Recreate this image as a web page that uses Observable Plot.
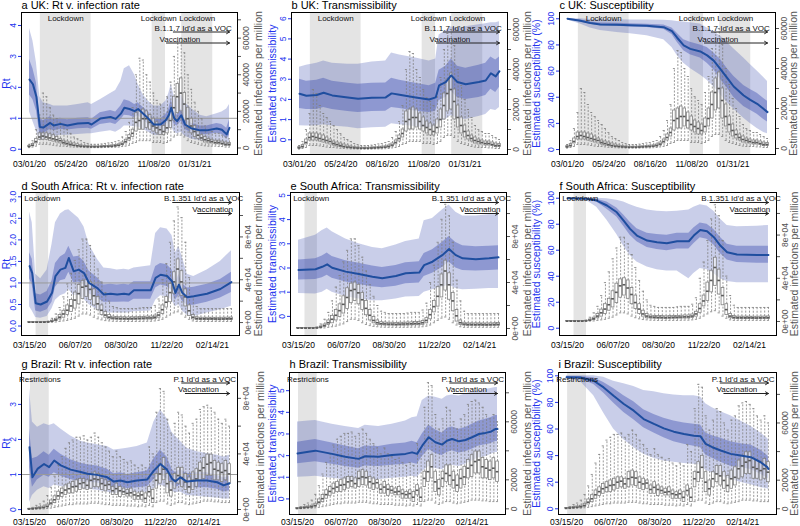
<!DOCTYPE html>
<html><head><meta charset="utf-8">
<script src="https://cdn.jsdelivr.net/npm/d3@7"></script>
<script src="https://cdn.jsdelivr.net/npm/@observablehq/plot@0.6"></script>
<style>
html,body{margin:0;padding:0;background:#fff;}
#chart{position:relative;width:800px;height:526px;overflow:hidden;background:#fff;}
#chart svg{position:absolute;left:0;top:0;}
</style></head><body><div id="chart"></div>
<script>
// ---------------- DATA ----------------
const ukStart = "2020-03-01", saStart = "2020-03-15", brStart = "2020-03-15";
const ukTickDates = ["2020-03-01","2020-05-24","2020-08-16","2020-11-08","2021-01-31"];
const saTickDates = ["2020-03-15","2020-06-07","2020-08-30","2020-11-22","2021-02-14"];
const brTickDates = ["2020-03-15","2020-06-07","2020-08-30","2020-11-22","2021-02-14"];
const ukLockdowns = [["2020-03-23","2020-07-04"],["2020-11-05","2020-12-02"],["2021-01-04","2021-03-08"]];
const saLockdowns = [["2020-03-27","2020-04-19"]];
const brRestrictions = [["2020-03-17","2020-04-22"]];
const ukEventLabels = ["B.1.1.7 Id'd as a VOC","Vaccination"];
const ukEventText = ["2020-11-10","2020-11-20"];
const ukEventArrow = ["2020-12-18","2020-12-04"];
const saEventLabels = ["B.1.351 Id'd as a VOC","Vaccination"];
const saEventText = ["2020-11-17","2021-01-08"];
const saEventArrow = ["2020-12-03","2021-01-18"];
const brEventLabels = ["P.1 Id'd as a VOC","Vaccination"];
const brEventText = ["2020-12-17","2020-12-26"];
const brEventArrow = ["2021-01-02","2021-01-09"];

// infection tick values (thousands per million) and their labels
const ukInfTicks = [0,10,20,30,40,50,60,70];
const ukInfLabels = ["0","","20000","","40000","","60000",""];
const saInfTicks = [0,20,40,60,80,100];
const saInfLabels = ["0e+00","","4e+04","","8e+04",""];
const brSciTicks = [0,20,40,60,80];
const brSciLabels = ["0e+00","","4e+04","","8e+04"];
const brInfTicks = [0,20,40,60,80];
const brInfLabels = ["0","20000","","60000",""];

// weekly infections per million (thousands): [lowWhisker, q1, median, q3, highWhisker]
const ukInf = [
[0.2,0.5,0.8,1.2,2],[0.5,1,1.5,2.2,4],[1,2.5,3.5,5,10],[2,4.5,6,8,18],[2,4.5,6.5,8,30],
[2,4.5,6,8,28],[1.8,4,5.5,7.5,22],[1.5,3.5,5,7,18],[1.2,3,4.5,6,16],[1,2.5,4,5,14],
[1,2,3,4,12],[0.8,1.5,2.5,3.5,10],[0.6,1.2,2,3,8],[0.5,1,1.5,2.5,6],[0.4,0.8,1.2,2,5],
[0.3,0.6,1,1.5,4],[0.3,0.5,0.8,1.2,3],[0.2,0.5,0.7,1,2.5],[0.2,0.4,0.6,0.9,2],[0.2,0.4,0.6,0.9,2],
[0.2,0.4,0.6,0.9,2],[0.2,0.5,0.7,1,2.2],[0.3,0.5,0.8,1.1,2.5],[0.3,0.6,0.9,1.2,2.8],[0.3,0.6,1,1.4,3],
[0.4,0.8,1.2,1.6,3.5],[0.5,1,1.5,2,4],[0.8,1.5,2.2,3,6],[1,2.5,3.5,4.5,9],[1.5,4,5.5,7,14],
[2.5,6,8,10,22],[3,9,14,19,40],[4,10,15,20,49],[4,10,16,21,48],[4,11,16,20,40],
[4,10,14,18,36],[3,9,12,16,30],[3,8,11,14,26],[3,7,10,13,24],[2.5,7,9,12,22],
[3,8,11,15,28],[4,11,15,20,36],[6,15,22,28,50],[7,19,28,35,58],[7,20,30,38,60],
[6,15,24,30,52],[4,11,16,22,40],[3,8,12,16,32],[2.5,6,9,12,25],[2,5,7,9,20],
[1.5,4,5.5,7,16],[1.2,3,4.5,6,12],[1,2.5,4,5,10],[1,2.5,3.5,4.5,9],[1,2,3,4,8],
[0.8,2,3,4,8],[0.8,1.8,2.5,3.5,7],[0.5,1.2,2,3,6],[0.5,1.2,2,2.8,5]
];
const saInf = [
[0.1,0.2,0.3,0.4,0.6],[0.1,0.2,0.3,0.4,0.6],[0.1,0.2,0.3,0.4,0.6],[0.1,0.2,0.3,0.4,0.6],[0.1,0.2,0.3,0.5,0.8],
[0.2,0.4,0.5,0.7,1.2],[0.3,0.8,1.2,1.8,4],[0.5,1.5,2.5,3.5,8],[1,3,5,7,14],[1.5,4.5,8,11,24],
[2,7,11.5,16,36],[3,10,15.5,21,46],[4,13,21,28,58],[6,17,27,35,68],[8,22,33,39,78],
[8,24,34,40,78],[7,21,31,38,72],[5,16,25,31,62],[3.5,11.5,17.5,24,50],[2.5,7,11.5,16,38],
[1.8,4.5,7,10,28],[1.5,3,5,7,20],[1.2,2.8,4.2,5.5,15],[1.1,2.6,4,5.2,14],[1,2.5,3.8,5,13],
[1,2.5,3.8,5,13],[1,2.4,3.6,4.8,13],[1,2.5,3.8,5,13],[1,2.5,3.9,5,13],[1,2.6,4,5.2,13.5],
[1.1,2.7,4.1,5.3,14],[1.2,2.8,4.3,5.6,14],[1.2,2.8,4.3,5.6,14],[1.5,3.2,5,6.5,16],[2,4.5,7,9,22],
[3,8,12,16,40],[5,14,19,24,55],[7,19,28,36,75],[9,27,38,47,95],[10,33,50,59,108],
[8,25,38,48,98],[5,15,24,31,75],[3,6,11,16,42],[1.5,3,5,7,24],[1,2.5,3.8,5,15],
[1,2.3,3.5,4.5,13],[1,2.3,3.5,4.5,13],[1,2.3,3.4,4.5,13],[1,2.3,3.5,4.5,13],[1,2.2,3.4,4.4,13],
[1,2.2,3.3,4.4,13],[1,2.3,3.4,4.5,13],[1,2.3,3.5,4.6,13],[1,2.4,3.6,4.7,13]
];
const brInf = [
[0.1,0.2,0.3,0.5,0.8],[0.1,0.3,0.5,0.8,1.5],[0.2,0.5,0.8,1.2,3],[0.3,0.7,1.1,1.6,4],[0.4,0.9,1.4,2.1,6],
[0.7,1.5,2.3,3.5,10],[1,3,4.6,6.5,16],[1.5,4.6,7,9.5,24],[2,7,9.8,12.8,32],[2.5,9,12,15,38],
[3,10.5,14,17.4,44],[3.5,11.5,15,18.6,48],[3.5,11.6,16.3,19.8,50],[4,12.8,16.7,21,52],[4,14,18.6,22,52],
[4,15,19.3,22,53],[4,14,17.4,21,50],[4.5,15,21,25.6,52],[4.5,16.3,22,26.7,55],[4.5,16,21.5,25.6,52],
[4,14,18.6,22,48],[3.5,13,17.4,21,45],[3.5,14,18,19.8,42],[3,10.5,13.5,16.3,38],[3,10.5,15,18.6,42],
[3,9,13.5,16.3,38],[3,10.5,12.8,15,36],[2.5,9.3,11.6,14,34],[2.5,9.3,12,15,35],[2.5,7,10.5,12.8,32],
[2,7,9.8,11.6,30],[2.5,7,10.5,12.8,32],[2,4.7,8,11.6,30],[3,9.3,12.8,16.3,45],[2,4.7,8,14,40],
[5,15,21,25.6,70],[6,18.6,25.6,32.6,87],[6,21,29,37,85],[4,11.6,18.6,25.6,65],[3,9.3,14,19.8,55],
[4,15,21,25.6,62],[5,18.6,24.4,30,70],[5,16.3,23,30,68],[4,14,19.8,25.6,60],[3.5,11.6,16.3,23,55],
[4,14,21,26.7,62],[4.5,16.3,22,29,65],[5,21,28,33.7,72],[6,22,30,37,74],[6,24.4,32.6,39.5,75],
[6,24.4,33.7,39.5,73],[5.5,21,29,35,70],[5.5,21,28,33.7,65],[5,19.8,26.7,32.6,62],[5,21,28,34.9,65],
[5,18.6,25.6,32.6,60]
];

// estimates: [week index, lower95, lower50, median, upper50, upper95]
const ukRt = [
[0,1.2,1.75,2.25,2.9,3.9],[1,0.9,1.6,2.1,2.6,3.5],[2,0.6,1.25,1.7,2.15,2.8],[3,0.3,0.5,0.72,1.0,1.7],
[4,0.3,0.5,0.7,0.92,1.5],[6,0.42,0.65,0.85,1.05,1.45],[7,0.4,0.6,0.77,0.97,1.4],[9,0.45,0.65,0.82,1.0,1.4],
[11,0.45,0.62,0.77,0.95,1.4],[14,0.48,0.66,0.83,1.0,1.45],[17,0.5,0.68,0.85,1.02,1.5],[18,0.5,0.65,0.8,0.97,1.45],
[20.5,0.55,0.8,0.99,1.18,1.6],[23.5,0.6,0.85,1.04,1.25,1.8],[25,0.55,0.8,0.98,1.2,1.9],[26.5,0.65,0.95,1.15,1.4,2.2],
[27.5,0.75,1.1,1.34,1.6,2.6],[29,0.75,1.08,1.3,1.55,2.7],[30.5,0.72,1.02,1.23,1.45,2.4],[31.5,0.72,1.08,1.3,1.5,2.1],
[33,0.65,0.95,1.15,1.35,1.75],[34.5,0.55,0.8,0.99,1.2,1.55],[36,0.45,0.65,0.8,0.98,1.4],[38,0.45,0.65,0.8,0.98,1.4],
[39.5,0.55,0.78,0.94,1.12,1.55],[40.4,0.6,0.9,1.1,1.3,1.8],[41.1,0.75,1.1,1.34,1.6,2.1],[42,0.55,0.8,0.99,1.2,1.7],
[42.8,0.5,0.75,0.91,1.1,1.6],[44,0.55,0.9,1.1,1.3,1.75],[45.1,0.42,0.65,0.8,0.97,1.5],[47.1,0.32,0.52,0.67,0.83,1.3],
[49.5,0.28,0.48,0.61,0.75,1.1],[51.4,0.25,0.48,0.61,0.75,1.05],[54.3,0.25,0.52,0.67,0.83,1.15],[55.8,0.2,0.48,0.63,0.8,1.2],
[57.2,0.1,0.33,0.48,0.68,1.3],[58,0.15,0.45,0.69,0.95,1.45]
];
const ukTr = [
[0,0.7,1.55,2.28,3.0,3.6],[2,0.68,1.5,2.18,2.9,3.7],[5,0.7,1.5,2.22,2.95,3.8],[7,0.75,1.6,2.33,3.05,3.9],
[9.5,0.68,1.5,2.2,2.9,3.8],[14,0.62,1.4,2.1,2.8,3.75],[17,0.55,1.35,2.03,2.75,3.75],[21,0.6,1.4,2.08,2.8,3.85],
[25,0.62,1.42,2.1,2.82,3.9],[26.7,0.8,1.6,2.3,3.05,4.3],[29,0.75,1.55,2.23,2.95,4.2],[33.7,0.65,1.42,2.1,2.8,4.05],
[37.6,0.6,1.35,2.0,2.68,3.9],[39.5,0.65,1.42,2.1,2.8,4.0],[40.5,0.9,1.95,2.7,3.45,5.2],[42.4,1.0,2.1,2.86,3.65,5.4],
[44,1.2,2.4,3.19,4.0,5.6],[45.8,1.05,2.1,2.86,3.65,5.5],[48.2,1.0,2.0,2.75,3.55,5.6],[52,1.15,2.1,2.86,3.7,5.7],
[54,1.25,2.2,2.94,3.8,5.75],[55.5,1.5,2.5,3.3,4.1,5.8],[56.9,1.45,2.35,3.14,3.95,5.8],[58,1.6,2.6,3.4,4.1,5.85]
];
const ukSu = [
[0,99,99.6,100,100,100],[3.7,96,97.8,98.5,99.2,100],[6.6,93,95.8,96.7,97.6,99.5],[9.5,91,94.7,95.7,96.7,99.3],
[14.3,89.5,94.2,95.4,96.5,99.2],[18.2,88.5,93.8,95,96.2,99],[23,87,93.3,94.6,95.9,99],[27.9,84,92,93.6,95.2,98.8],
[30.3,78,88,90.6,93,98.5],[31.8,72,82,85.5,89,98],[33.7,66,75.5,79.6,84,97.5],[35.6,62,72.5,77,82,97],
[38.5,57,70,75,80,96],[40.5,53,66,72,78,93],[42.4,48,61,68,74,90],[44.3,42,54,61.7,69,87],
[46.3,36,47,54.8,62,82],[48.2,31,40,48.2,56,77],[51.1,24,33,41.3,49,70],[53,20,30,38,46,65],
[55,16,27,35,43,60],[56.9,13,23,31,39,55],[58,12,21,28.6,37,52]
];
const saRt = [
[0,0.45,1.1,1.39,1.7,2.65],[0.7,0.35,0.95,1.23,1.55,2.4],[1.6,0.2,0.35,0.53,0.75,1.2],[2.9,0.18,0.32,0.5,0.72,1.1],
[4.6,0.22,0.38,0.57,0.8,1.3],[5.9,0.4,0.55,0.77,1.05,1.9],[6.8,0.6,0.9,1.16,1.45,2.4],[8.1,0.7,1.05,1.31,1.6,2.6],
[9.4,0.75,1.08,1.35,1.68,2.68],[10.3,0.85,1.25,1.58,1.85,2.7],[11.6,0.7,1.0,1.27,1.6,2.6],[12.9,0.72,1.02,1.31,1.62,2.5],
[14.3,0.62,0.95,1.23,1.5,2.3],[15.6,0.5,0.75,1.0,1.28,1.9],[17.8,0.38,0.65,0.88,1.12,1.55],[19.5,0.3,0.55,0.73,0.95,1.35],
[21.3,0.3,0.55,0.75,0.97,1.33],[23,0.3,0.55,0.73,0.95,1.3],[24.8,0.3,0.56,0.75,0.97,1.32],[26.1,0.3,0.55,0.73,0.95,1.3],
[27.4,0.33,0.62,0.83,1.03,1.35],[31.8,0.35,0.62,0.83,1.03,1.4],[33.1,0.6,0.88,1.12,1.38,2.15],[34.4,0.7,0.95,1.19,1.45,2.28],
[36.1,0.68,0.92,1.16,1.42,2.25],[37.4,0.6,0.82,1.04,1.3,2.1],[38.3,0.45,0.6,0.77,0.98,1.7],[39.2,0.5,0.72,0.96,1.2,1.85],
[40.1,0.35,0.58,0.77,0.98,1.6],[41.4,0.25,0.48,0.67,0.88,1.2],[43.1,0.22,0.48,0.69,0.9,1.15],[46.6,0.3,0.55,0.75,0.97,1.3],
[50.1,0.38,0.65,0.86,1.08,1.5],[53,0.46,0.78,1.02,1.25,1.75]
];
const saTr = [
[0,0.95,1.5,1.92,2.33,3.15],[4.5,0.92,1.52,1.95,2.38,3.35],[6.3,1.0,1.6,2.05,2.5,3.55],[7.6,1.12,1.7,2.15,2.62,3.65],
[8.9,1.0,1.58,2.01,2.48,3.5],[12.5,0.82,1.42,1.85,2.3,3.2],[16,0.72,1.32,1.75,2.2,3.0],[19.6,0.65,1.22,1.64,2.08,2.85],
[22.2,0.65,1.18,1.58,2.02,2.8],[25.8,0.72,1.25,1.67,2.1,2.95],[28.4,0.8,1.35,1.78,2.22,3.1],[32,0.82,1.38,1.81,2.26,3.2],
[33.3,1.0,1.65,2.12,2.6,3.95],[35.5,1.1,1.78,2.26,2.75,4.05],[38.1,1.2,2.02,2.53,3.05,4.4],[39.9,1.3,2.25,2.78,3.3,4.6],
[41.7,1.15,2.0,2.53,3.05,4.3],[43.5,1.1,1.9,2.4,2.92,4.15],[47,1.12,1.88,2.36,2.88,4.15],[50.5,1.15,1.9,2.4,2.9,4.2],
[53,1.15,1.92,2.44,2.92,4.2]
];
const saSu = [
[0,99.5,99.8,100,100,100],[5.1,98,99.2,99.5,99.8,100],[7.7,93,97,98.2,99.2,100],[10.4,83,91.5,94.4,97,99.5],
[13,72,85.5,89.2,92.5,98.5],[14.8,63,78.5,82.8,87,97],[16.5,56,71.5,76.4,81.5,95],[18.3,51,66.5,71.3,76.5,93],
[21,47,62,67.4,73,91],[23.6,45,60.5,66.2,72,90],[26.2,44,59.5,65.4,71.5,89.5],[28.9,44,61,66.9,73,90],
[32,38,61,66.9,73,91],[33.3,42,65,71.3,77,93],[35,46,69.5,75.6,81,95],[36.8,45,68.5,74.6,80,94],
[38.6,42,64,70,76,90],[40.3,38,57.5,63.6,70,84],[42.1,36,52.5,58.5,64.5,79],[44.7,35,50.5,56.7,63,78],
[50,35,50,56.4,63,78.5],[53,35,50,56.4,63,79]
];
const brRt = [
[0,0.2,1.2,1.78,2.3,3.45],[0.8,0.4,0.64,0.92,1.45,2.5],[2.2,0.55,0.85,1.16,1.5,2.35],[4,0.65,0.98,1.3,1.65,2.45],
[5.4,0.6,0.92,1.21,1.55,2.4],[6.8,0.7,1.05,1.4,1.72,2.45],[8.6,0.66,0.95,1.26,1.58,2.3],[11.3,0.62,0.86,1.14,1.42,2.1],
[14.1,0.6,0.8,1.07,1.32,1.95],[15.9,0.58,0.78,1.02,1.28,1.9],[18.6,0.55,0.76,0.99,1.24,1.85],[21.4,0.5,0.7,0.92,1.15,1.8],
[23.2,0.45,0.6,0.8,1.02,1.7],[25,0.48,0.63,0.83,1.05,1.72],[26.9,0.45,0.6,0.78,1.0,1.75],[29.6,0.48,0.62,0.83,1.05,1.8],
[32.4,0.5,0.65,0.86,1.1,1.9],[34.2,0.6,0.85,1.11,1.45,2.5],[36,0.7,1.0,1.3,1.7,2.85],[37.8,0.62,0.88,1.14,1.5,2.6],
[39.2,0.52,0.7,0.88,1.15,2.2],[40.1,0.48,0.62,0.8,1.05,2.1],[41.5,0.5,0.7,0.92,1.15,1.95],[43.3,0.4,0.6,0.8,1.02,1.75],
[46.1,0.38,0.62,0.83,1.05,1.65],[48.8,0.35,0.62,0.83,1.05,1.6],[51.6,0.33,0.58,0.78,0.98,1.55],[53.4,0.3,0.5,0.69,0.9,1.5],
[55,0.3,0.54,0.75,0.95,1.55]
];
const brTr = [
[0,1.0,1.62,2.1,2.62,3.55],[3,1.02,1.68,2.18,2.7,3.6],[4.9,1.05,1.72,2.23,2.75,3.62],[9.5,0.95,1.6,2.08,2.58,3.45],
[13.1,0.88,1.5,1.95,2.45,3.35],[16.8,0.8,1.42,1.85,2.32,3.25],[18.6,0.9,1.52,1.97,2.45,3.4],[22.3,0.88,1.5,1.95,2.42,3.35],
[26,0.95,1.56,2.03,2.52,3.45],[29.7,1.0,1.6,2.08,2.58,3.6],[31.5,1.05,1.66,2.15,2.66,3.75],[32.9,1.0,1.6,2.08,2.6,3.8],
[34.3,1.25,1.95,2.46,3.0,4.55],[36.1,1.5,2.3,2.85,3.42,4.75],[37.9,1.4,2.1,2.62,3.2,4.7],[39.8,1.35,2.0,2.51,3.05,4.6],
[41.1,1.5,2.15,2.69,3.25,4.75],[42.5,1.55,2.22,2.77,3.32,4.8],[44.4,1.5,2.12,2.66,3.22,4.75],[46.2,1.6,2.18,2.72,3.3,4.85],
[48,1.75,2.3,2.85,3.45,4.95],[49.9,1.9,2.45,3.0,3.6,5.0],[51.7,1.95,2.5,3.05,3.68,5.05],[53.1,2.05,2.55,3.1,3.75,5.1],
[54.5,2.15,2.65,3.23,3.85,5.15],[55,2.15,2.65,3.23,3.85,5.15]
];
const brSu = [
[0,98,98.5,99,99.5,100],[3.7,96,98,98.8,99.5,100],[7.4,85,93.5,96.3,98.5,100],[10.1,72,87,91.3,95,99],
[12.8,60,79.5,85,90.5,96],[15.6,52,72.5,78.8,85,94],[18.3,46,67,73.8,80.5,92],[21,41,61,67.5,74.5,89],
[23.8,38,57,63.8,71,88],[26.5,36,53.5,60.5,68,86.5],[29.2,35,50.5,58,66,85.5],[32,34,48.5,56.3,64.5,85],
[34.7,33.5,47,55,63.5,85],[36.5,33,46,54.5,63,84],[37.9,29,40.5,48.8,57,79],[39.7,27,38,46.3,55,76],
[42,25,35,43.8,53,73],[44.7,22,32,41.3,50.5,70],[47.4,20,31,40,49,66],[50.2,18,29.5,38.8,48,62],
[52.9,16,26,35,44,57],[54.7,15,23,31.3,40,53],[55,14.5,22.5,30,39,52]
];

// ---------------- LAYOUT / STYLE ----------------
const BLUE = "#2233ee", LINE = "#1f4e9f", RIB = "#3d4fb0", SHADE = "#e4e4e4";
const BOXC = "#808080", MEDC = "#5a5a5a", GRAYAX = "#555";
const FONT = "'Liberation Sans', Arial, Helvetica, sans-serif";
const DAY = 864e5;
const D = s => new Date(s + "T00:00:00Z");
const wk = (start, w) => new Date(D(start).getTime() + w * 7 * DAY);
const fmtDate = d3.utcFormat("%m/%d/%y");

const countries = {
  uk: {start: ukStart, inf: ukInf, ticks: ukTickDates, shade: ukLockdowns, shadeLabel: "Lockdown",
       evLabels: ukEventLabels, evText: ukEventText, evArrow: ukEventArrow},
  sa: {start: saStart, inf: saInf, ticks: saTickDates, shade: saLockdowns, shadeLabel: "Lockdown",
       evLabels: saEventLabels, evText: saEventText, evArrow: saEventArrow},
  br: {start: brStart, inf: brInf, ticks: brTickDates, shade: brRestrictions, shadeLabel: "Restrictions",
       evLabels: brEventLabels, evText: brEventText, evArrow: brEventArrow}
};
const rowOffsets = [
  {shade: 8, vocText: 18, vocArrow: 19.5, vacText: 29, vacArrow: 30.5, title: -4, xpad: 6},
  {shade: 8, vocText: 8.5, vocArrow: 10, vacText: 19.5, vacArrow: 21, title: -3, xpad: 6},
  {shade: 9, vocText: 9, vocArrow: 10.5, vacText: 19.5, vacArrow: 21, title: -5, xpad: 4}
];
const intF = d3.format("d"), oneF = d3.format(".1f");
const TR = "Estimated transmissibility", SU = "Estimated susceptibility (%)";
const panels = [
  {title:"a UK: Rt v. infection rate", c:"uk", s:ukRt, frame:[21,237,12,154], y:[-0.17,4.42], yTicks:[0,1,2,3,4], yFmt:intF, yLabel:"Rt", yLO:19, ref:1, inf:[-3.55,74], it:ukInfTicks, il:ukInfLabels, iLO:24, row:0},
  {title:"b UK: Transmissibility", c:"uk", s:ukTr, frame:[291,507,12,154], y:[-0.73,6.31], yTicks:[0,1,2,3,4,5,6], yFmt:intF, yLabel:TR, yLO:23, inf:[-2.5,68.5], it:ukInfTicks, il:ukInfLabels, iLO:23, row:0},
  {title:"c UK: Susceptibility", c:"uk", s:ukSu, frame:[559,775,12,154], y:[-3.8,104.8], yTicks:[0,20,40,60,80,100], yFmt:intF, yLabel:SU, yLO:27, inf:[-3,68], it:ukInfTicks, il:ukInfLabels, iLO:21, row:0},
  {title:"d South Africa: Rt v. infection rate", c:"sa", s:saRt, frame:[21,239,192,335], y:[-0.22,3.1], yTicks:[0,0.5,1,1.5,2,2.5,3], yFmt:oneF, yLabel:"Rt", yLO:19, ref:1, inf:[-12.1,121.5], it:saInfTicks, il:saInfLabels, iLO:22, row:1},
  {title:"e South Africa: Transmissibility", c:"sa", s:saTr, frame:[290,506,192,335], y:[-0.79,5.12], yTicks:[0,1,2,3,4,5], yFmt:intF, yLabel:TR, yLO:22, inf:[-6.1,118.3], it:saInfTicks, il:saInfLabels, iLO:24, row:1},
  {title:"f South Africa: Susceptibility", c:"sa", s:saSu, frame:[559,776,192,335], y:[-5.6,104.4], yTicks:[0,20,40,60,80,100], yFmt:intF, yLabel:SU, yLO:27, inf:[-12.96,119.4], it:saInfTicks, il:saInfLabels, iLO:21, row:1},
  {title:"g Brazil: Rt v. infection rate", c:"br", s:brRt, frame:[21,237,372,514], y:[-0.14,3.91], yTicks:[0,1,2,3], yFmt:intF, yLabel:"Rt", yLO:19, ref:1, inf:[-3.6,98.6], it:brSciTicks, il:brSciLabels, iLO:26, row:2},
  {title:"h Brazil: Transmissibility", c:"br", s:brTr, frame:[289,505,372,514], y:[-0.72,5.84], yTicks:[0,1,2,3,4,5], yFmt:intF, yLabel:TR, yLO:21, inf:[-3.9,94], it:brInfTicks, il:brInfLabels, iLO:25, row:2},
  {title:"i Brazil: Susceptibility", c:"br", s:brSu, frame:[558,776,372,514], y:[-4.3,102.5], yTicks:[0,20,40,60,80,100], yFmt:intF, yLabel:SU, yLO:26, inf:[-4.0,95.3], it:brInfTicks, il:brInfLabels, iLO:21, row:2}
];

function xDomain(c) {
  const a = D(c.start).getTime(), b = wk(c.start, c.inf.length - 1).getTime(), pad = (b - a) * 0.04;
  return [new Date(a - pad), new Date(b + pad)];
}

const root = document.getElementById("chart");
const BOXW = 2.6, CAPW = 2.0;

for (const p of panels) {
  const c = countries[p.c];
  const [L, R, T, B] = p.frame;
  const off = rowOffsets[p.row];
  const base = {
    width: 800, height: 526, marginLeft: L, marginRight: 800 - R, marginTop: T, marginBottom: 526 - B,
    style: {background: "transparent", fontFamily: FONT, fontSize: "8.5px", overflow: "visible"}
  };
  const xs = {type: "utc", domain: xDomain(c), axis: null};
  const rows = p.s.map(r => ({date: wk(c.start, r[0]), lo95: r[1], lo50: r[2], mid: r[3], hi50: r[4], hi95: r[5]}));
  const shade = c.shade.map(([a, b]) => ({x1: D(a), x2: D(b), xm: new Date((D(a).getTime() + D(b).getTime()) / 2)}));
  const lastDate = wk(c.start, c.inf.length - 1);
  const H = B - T;
  const yOff = o => p.y[1] - o / H * (p.y[1] - p.y[0]);
  const ev = c.evLabels.map((label, i) => ({label, tx: D(c.evText[i]), ax: D(c.evArrow[i]), ay: yOff(i === 0 ? off.vocArrow : off.vacArrow)}));

  // layer A: shading + ribbons
  root.appendChild(Plot.plot({...base, x: xs, y: {domain: p.y, axis: null}, marks: [
    Plot.rect(shade, {x1: "x1", x2: "x2", fill: SHADE}),
    Plot.areaY(rows, {x: "date", y1: "lo95", y2: "hi95", fill: RIB, fillOpacity: 0.28}),
    Plot.areaY(rows, {x: "date", y1: "lo50", y2: "hi50", fill: RIB, fillOpacity: 0.42}),
    ...(p.ref != null ? [Plot.ruleY([p.ref], {stroke: "#9a9a9a", strokeWidth: 1})] : [])
  ]}));

  // layer B: infection boxplots + right axis
  const boxes = c.inf.map((r, i) => {
    const d = wk(c.start, i).getTime();
    return {date: new Date(d), xa: new Date(d - BOXW * DAY), xb: new Date(d + BOXW * DAY),
            ca: new Date(d - CAPW * DAY), cb: new Date(d + CAPW * DAY),
            lo: r[0], q1: r[1], med: r[2], q3: r[3], hi: r[4]};
  });
  const lab = new Map(p.it.map((t, i) => [t, p.il[i]]));
  const ticksIn = p.it.filter(t => t >= p.inf[0] && t <= p.inf[1]);
  root.appendChild(Plot.plot({...base, x: xs, y: {domain: p.inf, axis: null}, marks: [
    Plot.ruleX(boxes, {x: "date", y1: "q3", y2: "hi", stroke: BOXC, strokeWidth: 0.8, strokeDasharray: "2,1.5"}),
    Plot.ruleX(boxes, {x: "date", y1: "lo", y2: "q1", stroke: BOXC, strokeWidth: 0.8, strokeDasharray: "2,1.5"}),
    Plot.ruleY(boxes, {y: "hi", x1: "ca", x2: "cb", stroke: BOXC, strokeWidth: 0.8}),
    Plot.ruleY(boxes, {y: "lo", x1: "ca", x2: "cb", stroke: BOXC, strokeWidth: 0.8}),
    Plot.rect(boxes, {x1: "xa", x2: "xb", y1: "q1", y2: "q3", fill: "white", fillOpacity: 0.55, stroke: BOXC, strokeWidth: 0.8}),
    Plot.ruleY(boxes, {y: "med", x1: "xa", x2: "xb", stroke: MEDC, strokeWidth: 1.6}),
    Plot.axisY({anchor: "right", ticks: ticksIn, tickFormat: t => lab.get(t), tickRotate: -90, lineAnchor: "top",
                tickSize: 3, tickPadding: 2.5, color: GRAYAX, fontSize: 8.5, label: null}),
    Plot.axisY({anchor: "right", ticks: [], tickSize: 0, label: "Estimated infections per million", labelAnchor: "center",
                labelOffset: p.iLO, labelArrow: "none", color: GRAYAX, fontSize: 10.5})
  ]}));

  // layer C: line, axes, frame, annotations, title
  root.appendChild(Plot.plot({...base, x: xs, y: {domain: p.y, axis: null}, marks: [
    Plot.lineY(rows, {x: "date", y: "mid", stroke: LINE, strokeWidth: 2}),
    Plot.frame({stroke: "black", strokeWidth: 1}),
    Plot.axisX({anchor: "bottom", ticks: c.ticks.map(D), tickFormat: fmtDate, tickSize: 0, tickPadding: off.xpad,
                fontSize: 8.5, label: null, color: "black"}),
    Plot.axisY({anchor: "left", ticks: p.yTicks, tickFormat: p.yFmt, tickRotate: -90, tickSize: 3, tickPadding: 3,
                color: BLUE, fontSize: 8.5, label: null}),
    Plot.axisY({anchor: "left", ticks: [], tickSize: 0, label: p.yLabel, labelAnchor: "center", labelOffset: p.yLO,
                labelArrow: "none", color: BLUE, fontSize: 10.5}),
    Plot.text(shade, {x: "xm", frameAnchor: "top", dy: off.shade, lineAnchor: "bottom", text: () => c.shadeLabel, fontSize: 8, fill: "#111"}),
    Plot.text([ev[0]], {x: "tx", frameAnchor: "top", dy: off.vocText, text: "label", textAnchor: "start", lineAnchor: "bottom", fontSize: 8, fill: "#111"}),
    Plot.text([ev[1]], {x: "tx", frameAnchor: "top", dy: off.vacText, text: "label", textAnchor: "start", lineAnchor: "bottom", fontSize: 8, fill: "#111"}),
    Plot.arrow(ev, {x1: "ax", x2: () => lastDate, y1: "ay", y2: "ay", stroke: "#222", strokeWidth: 1, headLength: 5}),
    Plot.text([p.title], {frameAnchor: "top-left", dy: off.title, lineAnchor: "bottom", textAnchor: "start", fontSize: 11, fill: "black"})
  ]}));
}
</script></body></html>
